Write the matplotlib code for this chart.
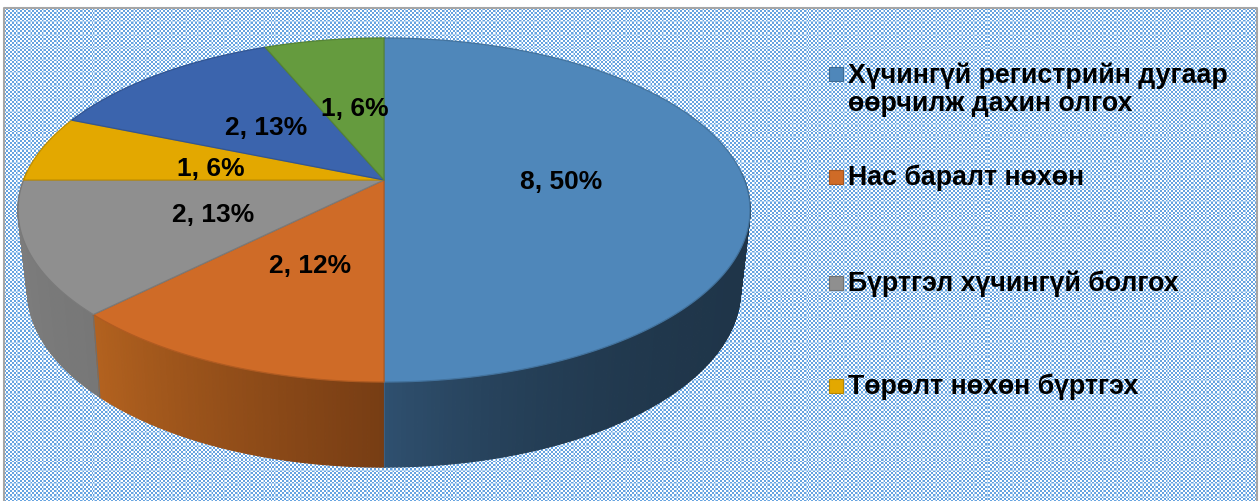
import numpy as np
from matplotlib import pyplot as plt
from matplotlib.patches import Polygon

values = [8, 2, 2, 1, 2, 1]
point_labels = ['8, 50%', '2, 12%', '2, 13%', '1, 6%', '2, 13%', '1, 6%']
legend_labels = ['Хүчингүй регистрийн дугаар\nөөрчилж дахин олгох', 'Нас баралт нөхөн',
                 'Бүртгэл хүчингүй болгох', 'Төрөлт нөхөн бүртгэх']

top_colors = ['#4f87ba', '#cf6b27', '#8f8f8f', '#e3a800', '#3b64ad', '#659b3e']
side_light = ['#2f506f', '#b3621f', '#808080', '#a87c00', '#2c4a80', '#4a722d']
side_dark = ['#1f3549', '#773d14', '#777777', '#a87c00', '#2c4a80', '#4a722d']
label_pos = [(561, 182), (310, 266), (213, 215), (211, 169), (266, 128), (355, 109)]
legend_y = [90, 178, 284, 387]

W, H = 1260, 501
CX, CY = 384, 180


def top_xy(t):
    # t is clockwise from 12 o'clock, circle seen in perspective
    u, v = np.sin(t), -np.cos(t)
    d = 1 - 0.1744 * v
    return CX + 360.4 * u / d, CY + 166.8 * v / d


def low_xy(t):
    u, v = np.sin(t), -np.cos(t)
    d = 1 - 0.18 * v
    return CX + 350.6 * u / d, CY + 78.5 + 171 * v / d


def mix(c1, c2, f):
    a = np.array(plt.matplotlib.colors.to_rgb(c1))
    b = np.array(plt.matplotlib.colors.to_rgb(c2))
    return tuple(a + (b - a) * f)


def background():
    yy, xx = np.mgrid[0:H, 0:W]
    check = ((xx // 2 + yy // 2) % 2).astype(float)
    img = np.ones((H, W, 3))
    img[check == 1] = np.array([0.40, 0.64, 0.88])
    img[(yy % 13 < 1) | (xx % 13 < 1)] = np.array([0.70, 0.83, 0.95])
    return img


fig = plt.figure(figsize=(12.6, 5.01), dpi=100)
ax = fig.add_axes([0, 0, 1, 1])
ax.axis('off')

ax.imshow(background(), extent=(4, W - 3, H + 2, 8), aspect='auto', interpolation='nearest', zorder=0)
ax.plot([4, 4, W - 3, W - 3], [H + 2, 8, 8, H + 2], color='#a6a6a6', lw=1.5, zorder=1)

ax.set_xlim(0, W)
ax.set_ylim(H, 0)

# slice angles come from the values
edges = np.cumsum([0] + values) / sum(values) * 2 * np.pi

# side wall first, back to front, then the top face over it
quads = []
for i in range(len(values)):
    n = max(4, int(values[i] * 40))
    ts = np.linspace(edges[i], edges[i + 1], n + 1)
    for j in range(n):
        t0, t1 = ts[j], ts[j + 1]
        if -np.cos((t0 + t1) / 2) < -0.05:
            continue
        x0, y0 = top_xy(t0)
        x1, y1 = top_xy(t1)
        x2, y2 = low_xy(t1)
        x3, y3 = low_xy(t0)
        f = (j + 0.5) / n
        # shade runs darker towards the front centre
        if i == 0:
            col = mix(side_dark[i], side_light[i], max(0, (f - 0.5) / 0.5) ** 4)
        elif i in (1, 2):
            col = mix(side_light[i], side_dark[i], 1 - f)
        else:
            col = side_dark[i]
        quads.append(((y0 + y1) / 2, [(x0, y0), (x1, y1), (x2, y2), (x3, y3)], col))

for _, pts, col in sorted(quads, key=lambda q: q[0]):
    ax.add_patch(Polygon(pts, closed=True, fc=col, ec=col, lw=0.9, zorder=2))

# the seams at the front of the wall
for t in edges[1:3]:
    ax.plot(*zip(top_xy(t), low_xy(t)), color='#3d5f80' if t == edges[1] else '#6e6e6e', lw=0.8, zorder=3)

for i in range(len(values)):
    ts = np.linspace(edges[i], edges[i + 1], 200)
    xs, ys = top_xy(ts)
    pts = [(CX, CY)] + list(zip(xs, ys))
    ax.add_patch(Polygon(pts, closed=True, fc=top_colors[i], ec=mix(top_colors[i], '#000000', 0.15),
                         lw=0.9, zorder=4, joinstyle='round'))

for (x, y), s in zip(label_pos, point_labels):
    ax.text(x, y, s, ha='center', va='center', fontsize=19, fontweight='bold',
            family='Liberation Sans', color='black', zorder=6)

for y, s, c in zip(legend_y, legend_labels, top_colors):
    first = y - 15 if '\n' in s else y
    ax.add_patch(plt.Rectangle((829, first - 8), 14, 14, fc=c, ec=mix(c, '#000000', 0.2), lw=0.8, zorder=5))
    ax.text(848, y, s, ha='left', va='center', fontsize=19.3, fontweight='bold',
            family='Liberation Sans', color='black', linespacing=1.1, zorder=6)

fig.savefig('out.png', dpi=100)
